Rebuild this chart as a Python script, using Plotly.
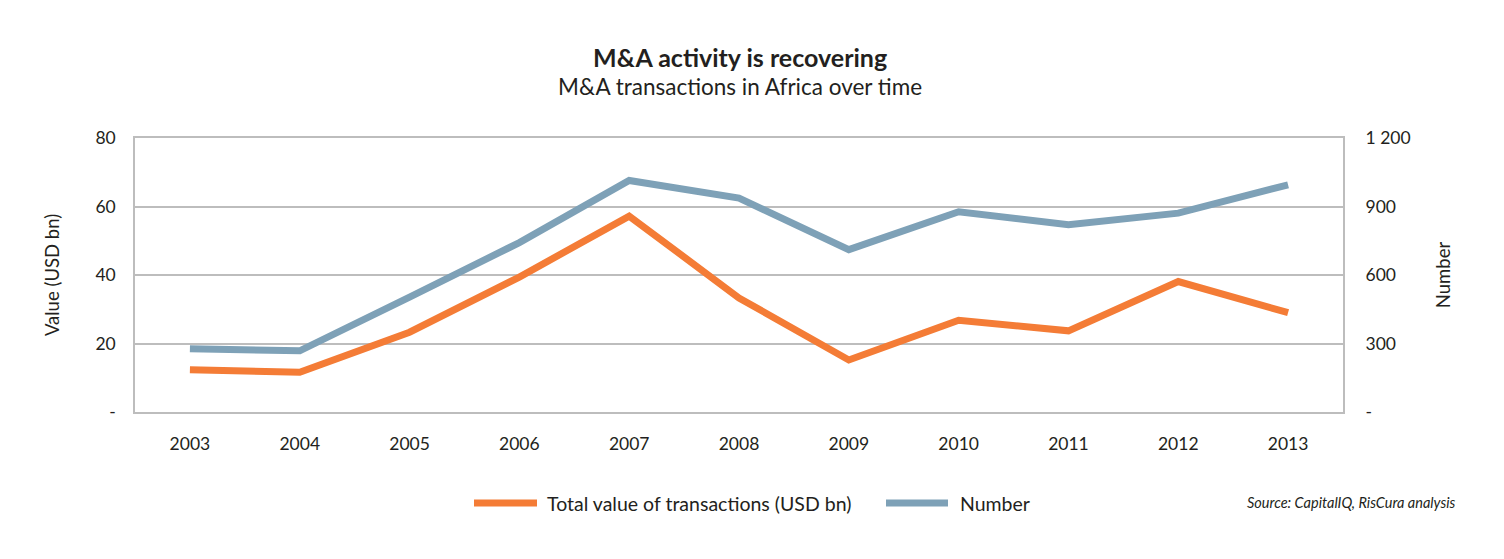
import plotly.graph_objects as go

years = ["2003", "2004", "2005", "2006", "2007", "2008", "2009", "2010", "2011", "2012", "2013"]
value_usd_bn = [12.3, 11.6, 23.3, 39.4, 57.2, 33.3, 15.2, 26.8, 23.7, 38.1, 29.0]
number_deals = [277, 268, 503, 742, 1014, 937, 711, 877, 820, 871, 995]

left_ticks = [0, 20, 40, 60, 80]
left_labels = ["-", "20", "40", "60", "80"]
right_ticks = [0, 300, 600, 900, 1200]
right_labels = ["-", "300", "600", "900", "1 200"]

series_names = ["Total value of transactions (USD bn)", "Number"]

ORANGE = "#F47C36"
BLUE = "#7EA1B7"
GRID = "#BDBDBD"
TXT = "#231F20"
FONT = "Lato, Open Sans, sans-serif"

W, H = 1504, 559
ML, MR, MT, MB = 135, 161, 138, 147
PW, PH = W - ML - MR, H - MT - MB

def px(xpix):
    return (xpix - ML) / PW

def py(ypix):
    return (H - MB - ypix) / PH

fig = go.Figure()
fig.add_trace(go.Scatter(
    x=years, y=value_usd_bn, name=series_names[0],
    mode="lines", line=dict(color=ORANGE, width=7), yaxis="y"))
fig.add_trace(go.Scatter(
    x=years, y=number_deals, name=series_names[1],
    mode="lines", line=dict(color=BLUE, width=7), yaxis="y2"))

fig.update_layout(
    width=W, height=H,
    margin=dict(l=ML, r=MR, t=MT, b=MB),
    paper_bgcolor="white", plot_bgcolor="white",
    font=dict(family=FONT, color=TXT, size=17),
    showlegend=False,
    xaxis=dict(type="category", range=[-0.5, 10.5], showgrid=False,
               showline=True, linecolor=GRID, linewidth=1.5, mirror=True,
               ticks="outside", ticklen=15, tickcolor="rgba(0,0,0,0)",
               tickfont=dict(size=17.5), zeroline=False),
    yaxis=dict(range=[0, 80], tickvals=left_ticks, ticktext=left_labels,
               showgrid=True, gridcolor=GRID, gridwidth=1.5,
               showline=True, linecolor=GRID, linewidth=1.5, mirror=True,
               ticks="outside", ticklen=14, tickcolor="rgba(0,0,0,0)",
               tickfont=dict(size=17.5), zeroline=False,
               title=dict(text="Value (USD bn)", font=dict(size=18.5), standoff=31)),
    yaxis2=dict(range=[0, 1200], tickvals=right_ticks, ticktext=right_labels,
                overlaying="y", side="right", showgrid=False,
                ticks="outside", ticklen=18, tickcolor="rgba(0,0,0,0)",
                tickfont=dict(size=17.5), zeroline=False, showline=False,
                title=dict(text="Number", font=dict(size=18.5), standoff=27)),
)

# Titles
fig.add_annotation(text="<b>M&A activity is recovering</b>", xref="paper", yref="paper",
                   x=px(740), y=py(57), showarrow=False,
                   font=dict(size=25, color=TXT), yanchor="middle")
fig.add_annotation(text="M&A transactions in Africa over time", xref="paper", yref="paper",
                   x=px(740), y=py(87), showarrow=False,
                   font=dict(size=22.5, color=TXT), yanchor="middle")
fig.add_annotation(text="<i>Source: CapitalIQ, RisCura analysis</i>", xref="paper", yref="paper",
                   x=px(1458), y=py(502), showarrow=False,
                   font=dict(size=14.5, color=TXT), xanchor="right", yanchor="middle")

# Legend (swatches + labels)
legend_items = [(series_names[0], ORANGE, 474, 537, 545), (series_names[1], BLUE, 886, 948, 958)]
for name, col, x0, x1, xt in legend_items:
    fig.add_shape(type="line", xref="paper", yref="paper",
                  x0=px(x0), x1=px(x1), y0=py(503), y1=py(503),
                  line=dict(color=col, width=7))
    fig.add_annotation(text=name, xref="paper", yref="paper", x=px(xt), y=py(503),
                       xanchor="left", yanchor="middle", showarrow=False,
                       font=dict(size=19.5, color=TXT))

fig.write_html("out.html")
